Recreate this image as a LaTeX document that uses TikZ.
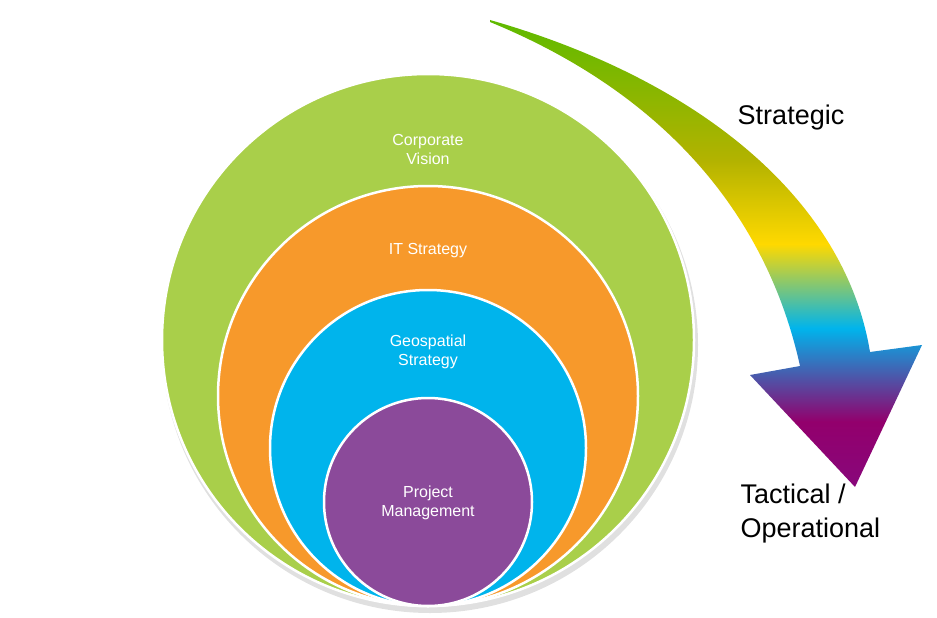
\documentclass[tikz,border=0pt]{standalone}
\usepackage{fontspec}
\setmainfont{Liberation Sans}
\definecolor{cgreen}{HTML}{A9CF4A}
\definecolor{corange}{HTML}{F7992B}
\definecolor{cblue}{HTML}{00B4EC}
\definecolor{cpurple}{HTML}{8B4A9A}
\pgfdeclareverticalshading{arrowshade}{100bp}{color(0bp)=(cpurple!60!blue!70!violet); color(32bp)=(violet!70!purple); color(42bp)=(cblue); color(51bp)=(yellow!70!orange); color(60bp)=(olive!60!yellow); color(75bp)=(green!40!olive!90!yellow); color(100bp)=(green!40!olive!90!yellow)}
\tikzset{ring/.style={draw=white,line width=2.5pt,circle,minimum size=#1,inner sep=0pt},
 ctext/.style={text=white,font=\fontsize{16}{19}\selectfont,align=center},
 big/.style={font=\fontsize{27}{34}\selectfont,align=left}}
\begin{document}
\begin{tikzpicture}[x=1pt,y=-1pt]
\useasboundingbox (0,0) rectangle (937,618);
\fill[black!12] (430,345) circle (268);
\node[ring=532pt,fill=cgreen] (g) at (428,340) {};
\node[ring=420pt,fill=corange] (o) at (428,396) {};
\node[ring=316pt,fill=cblue] (b) at (428,448) {};
\node[ring=208pt,fill=cpurple] (p) at (428,502) {};
\node[ctext] (tg) at (428,149) {Corporate\\Vision};
\node[ctext] (to) at (428,251) {IT Strategy};
\node[ctext] (tb) at (428,352) {Geospatial\\Strategy};
\node[ctext] (tp) at (428,503) {Project\\Management};
\shade[shading=arrowshade] (490,20) .. controls (700,80) and (845,200) .. (870,352)
 -- (922,345) -- (855,487) -- (750,375) -- (800,366)
 .. controls (770,230) and (680,100) .. (490,22) -- cycle;
\node[big,anchor=center] (s) at (791,118) {Strategic};
\node[big,anchor=west] (t) at (737,514) {Tactical /\\Operational};
\end{tikzpicture}
\end{document}
